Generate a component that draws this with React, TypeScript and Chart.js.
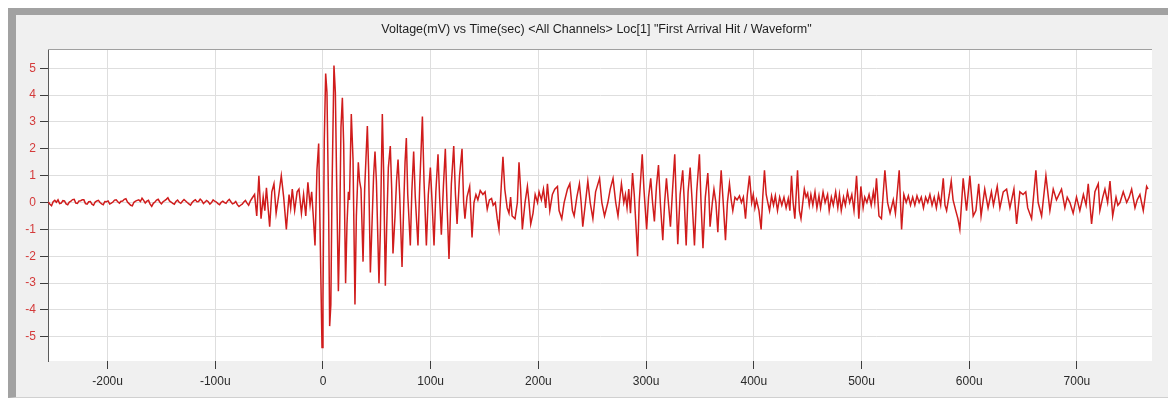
import React, { useEffect, useRef } from "react";
import { Chart, registerables } from "chart.js";

Chart.register(...registerables);

const TITLE = 'Voltage(mV) vs Time(sec) <All Channels> Loc[1] "First Arrival Hit / Waveform"';

const X_MIN = -255.3;
const X_MAX = 769.7;
const Y_MIN = -5.9;
const Y_MAX = 5.68;

const xTickValues = [-200, -100, 0, 100, 200, 300, 400, 500, 600, 700];
const xTickLabels = ["-200u", "-100u", "0", "100u", "200u", "300u", "400u", "500u", "600u", "700u"];
const yTickValues = [-5, -4, -3, -2, -1, 0, 1, 2, 3, 4, 5];
const yTickLabels = ["-5", "-4", "-3", "-2", "-1", "0", "1", "2", "3", "4", "5"];

// pre-trigger noise: sampled every 1.5 us starting at -255 us
const PRE_TRIGGER_START_US = -255;
const PRE_TRIGGER_STEP_US = 1.5;
const preTriggerMv = [
  0.02, -0.06, -0.12, 0.03, 0.08, 0.01, 0.1, -0.04, -0.02, 0.07,
  0.06, -0.05, -0.08, 0.02, 0.05, 0.11, 0.12, -0.02, -0.03, 0.06,
  0.07, 0.1, 0.1, -0.04, -0.06, 0.03, 0.04, -0.06, -0.1, 0.02,
  0.06, 0.08, 0.0, -0.05, -0.08, 0.04, 0.03, 0.06, -0.05, -0.02,
  0.02, 0.09, 0.1, 0.03, -0.02, 0.05, 0.06, 0.12, 0.14, 0.02,
  -0.04, -0.1, -0.12, 0.01, 0.05, 0.08, 0.1, 0.04, 0.16, 0.08,
  -0.02, 0.05, 0.08, -0.06, -0.14, -0.03, 0.02, 0.09, 0.12, 0.02,
  -0.05, 0.03, 0.07, 0.12, 0.18, 0.06, 0.02, -0.03, -0.06, 0.04,
  0.09, 0.01, -0.03, 0.05, 0.11, 0.06, 0.0, -0.05, -0.1, 0.0,
  0.06, 0.1, 0.03, 0.04, 0.13, 0.07, -0.04, 0.02, 0.08, 0.03,
  -0.06, 0.0, 0.1, 0.05, 0.02, -0.04, -0.08, 0.01, 0.05, 0.0,
  -0.03, 0.06, 0.12, 0.03, -0.05, -0.02, 0.04, -0.08, -0.15, -0.1,
  -0.06, 0.02, 0.08, -0.02, -0.1, 0.05, 0.15,
];

// [time us, mV]
const onsetPoints: [number, number][] = [
  [-63.5, 0.3], [-61.5, -0.5], [-59.5, 1.0], [-57.5, -0.6], [-55.5, 0.2], [-54, -0.3], [-52.5, 0.55],
  [-49.5, -0.9], [-47.5, 0.4], [-45.5, 0.7], [-43.5, -0.4], [-41, 0.3], [-38.7, 1.0], [-36.5, 0.2],
  [-34, -1.0], [-31.5, 0.3], [-30, -0.2], [-28.5, 0.5], [-26.3, -0.3], [-24, 0.4], [-22.3, 0.5],
  [-20, -0.4], [-18, 0.3], [-16, -0.5], [-14, 0.75], [-12, -0.1], [-10.5, 0.4], [-8.7, -0.7],
  [-7.4, -1.6], [-5.6, 1.2], [-4, 2.2], [-0.9, -5.4], [0.0, -3.6],
];

const burstPoints: [number, number][] = [
  [1.2, 2.3], [2.5, 4.8], [3.7, 4.1], [5.3, -0.5], [6.2, -4.6], [7.3, -3.8], [8.4, 0.5], [10.2, 5.1],
  [11.5, 4.1], [12.8, 0.5], [14.3, -3.3], [15.5, -1.0], [16.7, 2.8], [18, 3.9], [19.2, 2.2], [21, -3.0],
  [22.3, -0.8], [23.6, 0.4], [24.6, 0.1], [26.3, 3.3], [27.9, 1.6], [29.7, -3.8], [31, -0.5], [32.8, 1.5],
  [34, 0.8], [35.3, 0.5], [37.2, -2.2], [38.7, 0.5], [41.2, 2.85], [42.4, 1.2], [44, -2.6], [45.2, -1.2],
  [47, 1.0], [48.3, 1.9], [49.6, 0.8], [52, -3.0], [53.3, -1.0], [55.1, 3.3], [56.3, 1.2], [57.9, -3.1],
  [59.1, -1.0], [60.7, 1.3], [62.5, 2.1], [63.8, 0.5], [65, -1.9], [66.9, -0.5], [68.3, 0.8], [69.7, 1.6],
  [71.2, 0.3], [73.4, -2.4], [74.9, -0.2], [76.2, 1.5], [77.4, 2.4], [78.7, 0.3], [81.1, -1.6], [82.5, 0.4],
  [84.2, 1.9], [85.7, 0.2], [88.2, -1.6], [89.8, 0.6], [92.3, 3.2], [93.8, 0.8], [96, -1.6], [97.8, 0.3],
  [99.7, 1.3], [101.2, 0.1], [103.1, -1.6], [104.8, 0.4], [106.8, 1.8], [108.3, 0.2], [109.9, -1.2],
  [111.8, 0.6], [113.6, 2.0], [115.3, -0.2], [117, -2.1], [119.2, 0.7], [121.4, 2.1], [123, 0.3],
  [124.5, -0.8], [126.8, 1.0], [129.1, 2.0], [130.6, 0.0], [131.8, -0.6], [133.7, 0.2], [136.2, 0.6],
  [138.4, -1.3], [140.2, 0.0], [142, 0.3], [143.8, 0.1],
];

const codaPoints: [number, number][] = [
  [146, 0.45], [148.5, 0.3], [150.5, 0.4], [152.5, -0.25], [154.5, 0.1], [156.5, 0.15], [158, -0.1],
  [160, 0.0], [161.8, -0.6], [163.4, -1.0], [165.5, 0.6], [167.1, 1.7], [168.8, 0.5], [171, -0.2],
  [172.7, -0.4], [174.2, 0.2], [175.6, -0.5], [178.3, -0.6], [180.5, 0.0], [182, 1.5], [183.5, 0.5],
  [185.1, -1.0], [187.6, 0.0], [189.8, 0.6], [191.3, 0.0], [192.9, -0.8], [195, -0.4], [197, 0.3],
  [199.2, 0.0], [200.6, 0.4], [202.8, 0.1], [204.7, 0.5], [206.8, -0.2], [208.4, 0.7], [210.6, -0.3],
  [213, 0.3], [215.2, 0.5], [217.7, 0.6], [219.2, -0.3], [221.7, -0.6], [223.9, 0.0], [227, 0.5],
  [229.2, 0.7], [231.6, -0.3], [233.2, -0.5], [235.7, 0.2], [238.1, 0.7], [239.7, 0.0], [241.2, -0.9],
  [243.7, 0.0], [245.9, 0.8], [248.1, 0.0], [250.6, -0.6], [253.1, 0.4], [256.8, 0.9], [258.9, 0.0],
  [261.4, -0.5], [264.5, 0.0], [266.7, 0.5], [269.3, 0.9], [271.8, 0.0], [273.9, -0.5], [275.5, 0.1],
  [277.1, 0.7], [279.3, 0.0], [280.8, 0.3], [282.3, -0.2], [283.9, 0.5], [285.5, -0.4], [287.4, 1.1],
  [289, 0.3], [291.2, -1.3], [292.1, -2.0], [293.6, 0.0], [296.4, 1.8], [298, 0.5], [300.5, -1.0],
  [302.3, 0.2], [304.3, 0.9], [306, 0.0], [307.7, -0.7], [309.6, 0.6], [311.5, 1.4], [313.2, 0.0],
  [315.5, -1.4], [317.2, 0.0], [318.9, 0.9], [320.5, 0.1], [322.6, -0.9], [324.6, 0.5], [326.6, 1.8],
  [327.9, 0.2], [329.4, -1.55], [331.6, 0.3], [334, 1.2], [335.5, 0.0], [337.2, -1.6], [339, 0.4],
  [340.9, 1.3], [342.8, 0.0], [344.9, -1.6], [347, 0.4], [349.5, 1.8], [351, 0.0], [352.8, -1.7],
  [355, 0.2], [357.3, 1.1], [358.3, 0.3], [359.4, -0.9], [361.5, 0.0], [363, 0.5], [364.8, 0.0],
  [366.6, -1.1], [368.2, 0.2], [369.7, 1.2], [371.6, 0.0], [373.7, -1.4], [375.5, 0.0], [377.4, 0.7],
  [379, 0.1], [380.5, -0.3], [382.5, 0.2], [384.5, 0.1], [386.7, 0.25], [388.5, 0.0], [390.3, 0.2],
  [392.3, -0.6], [394, 0.3], [396, 1.0], [398, 0.0], [399.5, 0.3], [401, -0.2], [402.5, 0.1],
  [404.8, -0.3], [406.8, -1.0], [408.3, 0.2], [409.9, 1.2], [411.5, 0.3],
];

const tailPoints: [number, number][] = [
  [413, 0.0], [414.6, -0.3], [416.5, 0.25], [418.3, -0.1], [420, 0.25], [422, -0.3], [424, 0.2],
  [426, -0.1], [428, 0.2], [430, -0.2], [432, 0.15], [433.5, -0.3], [435, 1.0], [436.5, 0.0],
  [438.1, -0.6], [440.6, 1.2], [442.3, -0.3], [443.8, -0.6], [446.9, 0.5], [448.5, 0.2], [450, 0.35],
  [451.5, -0.1], [453, 0.3], [454.8, -0.1], [456.8, 0.4], [458.6, -0.2], [460.5, 0.25], [462, -0.2],
  [464.3, 0.4], [466.2, 0.0], [468.5, 0.3], [470, -0.3], [472, 0.2], [473.8, -0.1], [476, 0.4],
  [478, -0.2], [479.5, 0.3], [481.2, -0.3], [483.3, 0.2], [485, -0.1], [487, 0.4], [489, 0.0],
  [491, 0.3], [493, -0.3], [495.4, 1.0], [497.5, -0.6], [499.4, 0.6], [501.5, -0.2], [503, 0.2],
  [505, 0.0], [507, 0.3], [509, -0.1], [511, 0.4], [512.3, 0.0], [513.9, 0.9], [516.2, -0.5],
  [518.5, -0.6], [521.7, 1.2], [524.2, 0.0], [526.5, -0.4], [529.5, 0.1], [531.5, -0.4], [535, 1.2],
  [537.2, -1.0], [539.3, 0.3], [541.5, 0.0], [543.5, 0.25], [545.5, -0.1], [547.5, 0.2], [549.5, -0.1],
  [551.5, 0.25], [553.5, 0.0], [555.5, 0.2], [557.5, -0.2], [559.5, 0.2], [561.5, 0.0], [563.5, 0.3],
  [565.5, -0.1], [567.5, 0.2], [569.5, -0.2], [571.5, 0.3], [573.5, -0.1], [575.9, 0.9], [577.5, -0.1],
  [579, -0.3], [581.5, 0.3], [583.3, 0.8], [585, 0.1], [587.5, -0.3], [589.5, -0.6], [591.3, -1.0],
  [594.4, 0.9], [597.5, -0.3], [600.6, 1.0], [603.7, -0.5], [606.2, -0.3], [608.8, 0.7], [611, -0.5],
  [614.4, 0.5], [617.5, -0.2], [620.6, 0.4], [622.5, -0.1], [624.5, 0.3], [626, 0.6], [628.5, -0.2],
  [631.6, 0.4], [634.7, 0.5], [637.8, -0.2], [641.5, 0.5], [644, -0.8], [647, 0.4], [650, 0.3],
  [652.5, 0.4], [654.3, -0.2], [657.9, -0.6], [661.9, 1.2], [664, 0.0], [667.2, -0.5], [671.2, 1.0],
  [674.9, -0.3], [678, 0.5], [681, 0.1], [685.7, 0.5], [688.8, -0.2], [691, 0.2], [693.5, 0.0],
  [696.5, -0.4], [699.6, 0.2], [702.7, -0.3], [706, 0.3], [708.5, -0.1], [710.5, 0.7], [713.6, -0.8],
  [716.7, 0.4], [719.8, 0.7], [721.3, -0.3], [724, 0.2], [726, 0.5], [728.5, 0.0], [730.7, 0.8],
  [733.2, -0.5], [736.3, 0.2], [738, -0.1], [740, 0.0], [743, 0.4], [746.2, 0.0], [748.5, 0.2],
  [750.8, 0.5], [753.9, -0.2], [756, 0.1], [758.5, 0.3], [761.6, -0.3], [764.7, 0.6], [766, 0.5],
];

const FONT = "'Liberation Sans', Arial, sans-serif";

const framePlugin = {
  id: "frame",
  beforeDraw(chart: any) {
    const { ctx, chartArea: a, width, height } = chart;
    ctx.save();
    ctx.fillStyle = "#f0f0f0";
    ctx.fillRect(0, 0, width, height);
    ctx.fillStyle = "#ffffff";
    ctx.fillRect(a.left, a.top, a.right - a.left, a.bottom - a.top);
    ctx.restore();
  },
  afterDraw(chart: any) {
    const { ctx, chartArea: a, width } = chart;
    ctx.save();
    ctx.strokeStyle = "#a0a0a0";
    ctx.lineWidth = 1;
    ctx.beginPath();
    ctx.moveTo(a.left, Math.round(a.top) - 0.5);
    ctx.lineTo(a.right, Math.round(a.top) - 0.5);
    ctx.stroke();
    // chart title, centred on the whole panel
    ctx.fillStyle = "#1e1e1e";
    ctx.font = `12.5px ${FONT}`;
    ctx.textAlign = "center";
    ctx.textBaseline = "middle";
    ctx.fillText(TITLE, width / 2 + 0.5, 15);
    ctx.restore();
  },
};

export default function App() {
  const ref = useRef<HTMLCanvasElement | null>(null);

  useEffect(() => {
    if (!ref.current) return;
    const pre = preTriggerMv.map((v, i) => ({ x: PRE_TRIGGER_START_US + i * PRE_TRIGGER_STEP_US, y: v }));
    const rest = [...onsetPoints, ...burstPoints, ...codaPoints, ...tailPoints].map(([t, v]) => ({ x: t, y: v }));
    const data = [...pre, ...rest];

    const chart = new Chart(ref.current, {
      type: "line",
      data: {
        datasets: [
          {
            data,
            borderColor: "#d01c1c",
            borderWidth: 1.5,
            pointRadius: 0,
            tension: 0,
            fill: false,
          },
        ],
      },
      options: {
        animation: false,
        responsive: false,
        events: [],
        layout: { padding: { left: 0, right: 24, top: 35, bottom: 0 } },
        plugins: {
          legend: { display: false },
          tooltip: { enabled: false },
          title: { display: false },
        },
        scales: {
          x: {
            type: "linear",
            min: X_MIN,
            max: X_MAX,
            afterBuildTicks: (scale: any) => {
              scale.ticks = xTickValues.map((v) => ({ value: v }));
            },
            afterFit: (scale: any) => {
              scale.height = 36;
            },
            ticks: {
              color: "#2a2a2a",
              font: { family: FONT, size: 12 },
              padding: 5,
              maxRotation: 0,
              autoSkip: false,
              callback: (v: any) => {
                const i = xTickValues.indexOf(Number(v));
                return i >= 0 ? xTickLabels[i] : "";
              },
            },
            grid: { color: "#dedede", lineWidth: 1, tickLength: 8, tickColor: "#3c3c3c" },
            border: { display: false },
          },
          y: {
            type: "linear",
            min: Y_MIN,
            max: Y_MAX,
            afterBuildTicks: (scale: any) => {
              scale.ticks = yTickValues.map((v) => ({ value: v }));
            },
            afterFit: (scale: any) => {
              scale.width = 32;
            },
            ticks: {
              color: "#d43a3a",
              font: { family: FONT, size: 12 },
              padding: 4,
              autoSkip: false,
              callback: (v: any) => {
                const i = yTickValues.indexOf(Number(v));
                return i >= 0 ? yTickLabels[i] : "";
              },
            },
            grid: { color: "#dedede", lineWidth: 1, tickLength: 8, tickColor: "#3c3c3c" },
            border: { display: true, color: "#5a5a5a", width: 1 },
          },
        },
      },
      plugins: [framePlugin],
    } as any);

    return () => chart.destroy();
  }, []);

  return (
    <div
      style={{
        position: "relative",
        marginTop: -1,
        width: 1168,
        height: 391,
        boxSizing: "border-box",
        borderTop: "8px solid #a2a2a2",
        borderLeft: "8px solid #a2a2a2",
        borderBottom: "1px solid #d0d0d0",
        background: "#f0f0f0",
      }}
    >
      <canvas ref={ref} width={1160} height={382} style={{ display: "block" }} />
    </div>
  );
}
